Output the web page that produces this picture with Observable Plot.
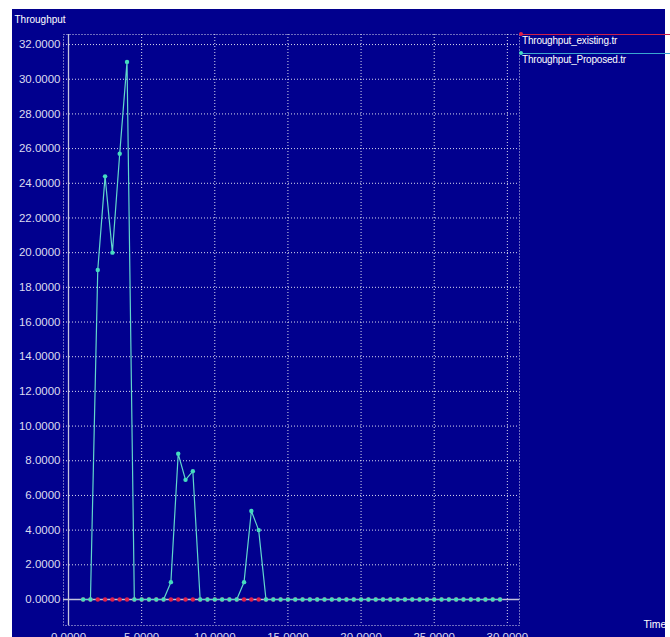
<!DOCTYPE html>
<html>
<head>
<meta charset="utf-8">
<script src="https://cdn.jsdelivr.net/npm/d3@7"></script>
<script src="https://cdn.jsdelivr.net/npm/@observablehq/plot@0.6"></script>
<style>
html, body { margin: 0; padding: 0; background: #ffffff; }
#wrap { position: relative; width: 670px; height: 637px; overflow: hidden; font-family: "Liberation Sans", Arial, sans-serif; }
#bg { position: absolute; left: 12px; top: 9px; width: 653px; height: 628px; background: #01008e; }
#chart { position: absolute; left: 0; top: 0; }
.leg { position: absolute; left: 520px; width: 150px; height: 16px; }
.leg .ln { position: absolute; left: 0; right: 0; top: 0; height: 1px; }
.leg .dot { position: absolute; left: -1px; top: -2px; width: 4px; height: 4px; border-radius: 2px; }
.leg .tx { position: absolute; left: 2px; top: 1px; color: #ffffff; font-size: 10px; white-space: nowrap; letter-spacing: -0.2px; }
</style>
</head>
<body>
<div id="wrap">
  <div id="bg"></div>
  <div id="chart"></div>
  <div id="legend"></div>
</div>
<script>
// ---- data ----
const time = [1, 1.5, 2, 2.5, 3, 3.5, 4, 4.5, 5, 5.5, 6, 6.5, 7, 7.5, 8, 8.5, 9, 9.5, 10, 10.5,
              11, 11.5, 12, 12.5, 13, 13.5, 14, 14.5, 15, 15.5, 16, 16.5, 17, 17.5, 18, 18.5, 19, 19.5, 20, 20.5,
              21, 21.5, 22, 22.5, 23, 23.5, 24, 24.5, 25, 25.5, 26, 26.5, 27, 27.5, 28, 28.5, 29, 29.5];
const throughputExisting = [0, 0, 0, 0, 0, 0, 0, 0, 0, 0, 0, 0, 0, 0, 0, 0, 0, 0, 0, 0,
                            0, 0, 0, 0, 0, 0, 0, 0, 0, 0, 0, 0, 0, 0, 0, 0, 0, 0, 0, 0,
                            0, 0, 0, 0, 0, 0, 0, 0, 0, 0, 0, 0, 0, 0, 0, 0, 0, 0];
const throughputProposed = [0, 0, 19.0, 24.4, 20.0, 25.7, 31.0, 0, 0, 0, 0, 0, 1.0, 8.4, 6.9, 7.4, 0, 0, 0, 0,
                            0, 0, 1.0, 5.1, 4.0, 0, 0, 0, 0, 0, 0, 0, 0, 0, 0, 0, 0, 0, 0, 0,
                            0, 0, 0, 0, 0, 0, 0, 0, 0, 0, 0, 0, 0, 0, 0, 0, 0, 0];
const seriesNames = ["Throughput_existing.tr", "Throughput_Proposed.tr"];
const seriesColors = ["#e0204a", "#45dcc0"];
const xTicks = [0, 5, 10, 15, 20, 25, 30];
const yTicks = [0, 2, 4, 6, 8, 10, 12, 14, 16, 18, 20, 22, 24, 26, 28, 30, 32];
const yTitle = "Throughput";
const xTitle = "Time";

const existingRows = time.map((t, i) => ({t, v: throughputExisting[i]}));
const proposedRows = time.map((t, i) => ({t, v: throughputProposed[i]}));

const gridStyle = {stroke: "#ffffff", strokeOpacity: 0.85, strokeDasharray: "1,2"};
const axisColor = "#c4c4dc";
const fmt = d => d.toFixed(4);

const chart = Plot.plot({
  width: 670,
  height: 637,
  marginLeft: 63,
  marginRight: 151,
  marginTop: 34,
  marginBottom: 12,
  style: {background: "transparent", color: "#dcdcf0", fontFamily: "'Liberation Sans', Arial, sans-serif", fontSize: "11.5px"},
  x: {domain: [-0.342, 30.83], ticks: xTicks, tickFormat: fmt, tickSize: 0, tickPadding: 7, label: null},
  y: {domain: [-1.5, 32.58], ticks: yTicks, tickFormat: fmt, tickSize: 0, tickPadding: 3, label: null},
  marks: [
    Plot.ruleX(xTicks, gridStyle),
    Plot.ruleY(yTicks, gridStyle),
    Plot.frame(gridStyle),
    Plot.line(existingRows, {x: "t", y: "v", stroke: seriesColors[0], strokeWidth: 1}),
    Plot.ruleY([0], {stroke: axisColor, strokeWidth: 1.3}),
    Plot.ruleX([0], {stroke: axisColor, strokeWidth: 1.3}),
    Plot.dot(existingRows, {x: "t", y: "v", r: 2.2, fill: seriesColors[0], stroke: null}),
    Plot.line(proposedRows, {x: "t", y: "v", stroke: "#62d6cc", strokeWidth: 1.2}),
    Plot.dot(proposedRows, {x: "t", y: "v", r: 2.2, fill: seriesColors[1], stroke: null}),
    Plot.text([yTitle], {frameAnchor: "top-left", dx: -49, dy: -19, textAnchor: "start", fill: "#ffffff", fontSize: 10}),
    Plot.text([xTitle], {frameAnchor: "bottom-right", dx: 124, dy: 2, textAnchor: "start", fill: "#ffffff", fontSize: 10.5})
  ]
});
document.getElementById("chart").appendChild(chart);

// legend (top right)
const legend = document.getElementById("legend");
const legendTops = [34, 53];
seriesNames.forEach((name, i) => {
  const d = document.createElement("div");
  d.className = "leg";
  d.style.top = legendTops[i] + "px";
  d.innerHTML = `<div class="ln" style="background:${i === 0 ? "#d0204a" : "#3aa6d0"}"></div>` +
                `<div class="dot" style="background:${seriesColors[i]}"></div>` +
                `<div class="tx">${name}</div>`;
  legend.appendChild(d);
});
</script>
</body>
</html>
